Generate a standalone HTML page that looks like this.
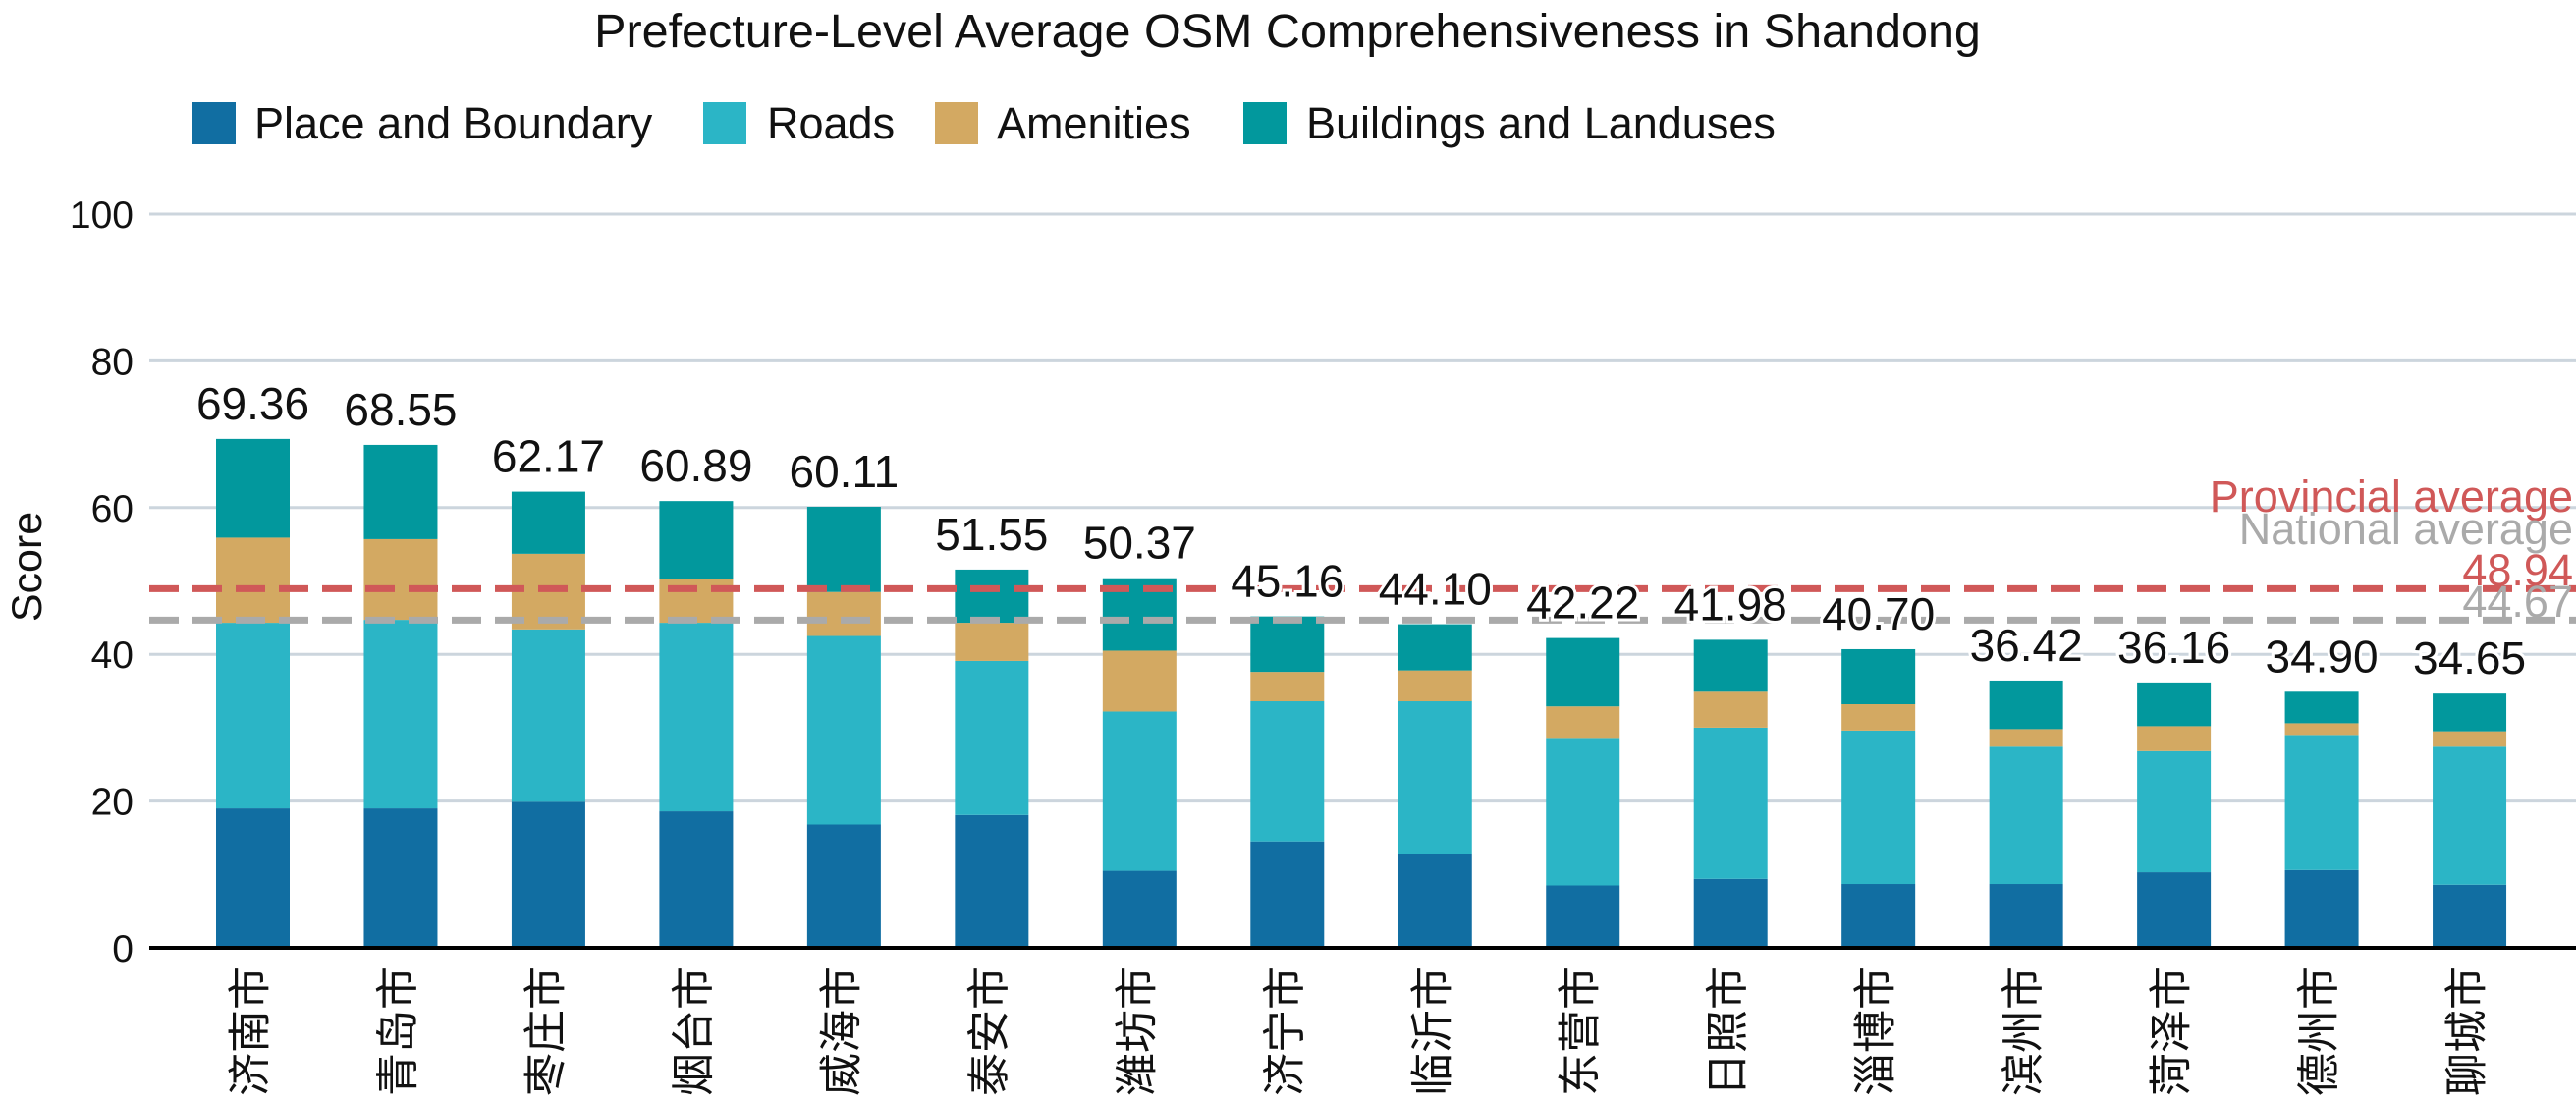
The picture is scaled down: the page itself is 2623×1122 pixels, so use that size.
<!DOCTYPE html>
<html><head><meta charset="utf-8"><style>
html,body{margin:0;padding:0;background:#fff;}
svg{display:block;font-family:"Liberation Sans","Noto Sans CJK SC",sans-serif;}
</style></head><body>
<svg id="chart" width="2623" height="1122" viewBox="0 0 2623 1122" xmlns="http://www.w3.org/2000/svg">
<text x="1311" y="48" font-size="48.5" text-anchor="middle" fill="#111">Prefecture-Level Average OSM Comprehensiveness in Shandong</text>
<g font-size="45" fill="#111">
<g><rect x="196" y="104" width="44" height="43" fill="#116ea2"/><text x="259" y="141">Place and Boundary</text></g>
<g><rect x="716" y="104" width="44" height="43" fill="#2bb5c6"/><text x="781" y="141">Roads</text></g>
<g><rect x="952" y="104" width="44" height="43" fill="#d3a962"/><text x="1015" y="141">Amenities</text></g>
<g><rect x="1266" y="104" width="44" height="43" fill="#02989d"/><text x="1330" y="141">Buildings and Landuses</text></g>
</g>
<text transform="translate(42,577) rotate(-90)" font-size="43" text-anchor="middle" fill="#111">Score</text>
<g id="grid"></g><g id="bars"></g><g id="avg"></g><g id="labels"></g>
</svg>
<script>
const cities=["济南市","青岛市","枣庄市","烟台市","威海市","泰安市","潍坊市","济宁市","临沂市","东营市","日照市","淄博市","滨州市","菏泽市","德州市","聊城市"];
const place=[19.0,19.0,19.9,18.6,16.8,18.1,10.5,14.5,12.8,8.5,9.4,8.7,8.7,10.3,10.6,8.6];
const roads=[25.3,25.7,23.5,25.7,25.7,21.0,21.7,19.1,20.8,20.1,20.6,20.9,18.7,16.5,18.4,18.8];
const amenities=[11.6,11.0,10.3,6.0,6.0,5.2,8.3,4.0,4.2,4.3,4.9,3.6,2.4,3.4,1.6,2.1];
const buildings=[13.46,12.85,8.47,10.59,11.61,7.25,9.87,7.56,6.30,9.32,7.08,7.50,6.62,5.96,4.30,5.15];
const yTicks=[0,20,40,60,80,100];
const provincialAvg=48.94;
const nationalAvg=44.67;

const NS="http://www.w3.org/2000/svg";
const X0=152,X1=2623,Y0=965,PPU=7.47,C0=257.5,STEP=150.47,BW=75;
const y=v=>Y0-v*PPU;
const xc=i=>C0+i*STEP;
function mk(tag,attrs,parent){const e=document.createElementNS(NS,tag);for(const k in attrs)e.setAttribute(k,attrs[k]);parent.appendChild(e);return e;}
const grid=document.getElementById('grid'),bars=document.getElementById('bars'),avg=document.getElementById('avg'),labels=document.getElementById('labels');
yTicks.forEach(t=>{
  if(t>0){const l=mk('line',{x1:X0,x2:X1,y1:y(t),y2:y(t),stroke:'#ccd5dd','stroke-width':3},grid);
  
  }
  const tx=mk('text',{x:136,y:y(t)+14,'font-size':39,'text-anchor':'end',fill:'#111'},grid);
  tx.textContent=t;
  
  
});
const series=[[place,'#116ea2','place'],[roads,'#2bb5c6','roads'],[amenities,'#d3a962','amenities'],[buildings,'#02989d','buildings']];
cities.forEach((c,i)=>{
  let base=0;
  series.forEach(([arr,col,nm])=>{
    const r=mk('rect',{x:xc(i)-BW/2,y:y(base+arr[i]),width:BW,height:arr[i]*PPU,fill:col},bars);
    
    
    base+=arr[i];
  });
  const t=mk('text',{x:xc(i),y:y(base)-20,'font-size':46,'text-anchor':'middle',fill:'#111',stroke:'#fff','stroke-width':6,'paint-order':'stroke'},labels);
  t.textContent=base.toFixed(2);
  
  
  const cl=mk('text',{transform:`translate(${xc(i)+12},984) rotate(-90)`,'font-size':44,'text-anchor':'end',fill:'#111'},labels);
  cl.textContent=c;
  
  
});
const ax=mk('line',{x1:X0,x2:X1,y1:Y0,y2:Y0,stroke:'#000','stroke-width':4},bars);


const nl=mk('line',{x1:X0,x2:X1,y1:y(nationalAvg),y2:y(nationalAvg),stroke:'#aaaaaa','stroke-width':7,'stroke-dasharray':'30 14'},avg);


const pl=mk('line',{x1:X0,x2:X1,y1:y(provincialAvg),y2:y(provincialAvg),stroke:'#d05858','stroke-width':7,'stroke-dasharray':'30 14'},avg);


[["Provincial average",521,'#d05858','provincial-average-label'],["National average",554,'#aaaaaa','national-average-label'],[provincialAvg.toFixed(2),596,'#d05858','provincial-average-value'],[nationalAvg.toFixed(2),628,'#aaaaaa','national-average-value']].forEach(([s,yy,col,nm])=>{
  const t=mk('text',{x:2620,y:yy,'font-size':45,'text-anchor':'end',fill:col},avg);
  t.textContent=s;
  
  
});
</script>
</body></html>
